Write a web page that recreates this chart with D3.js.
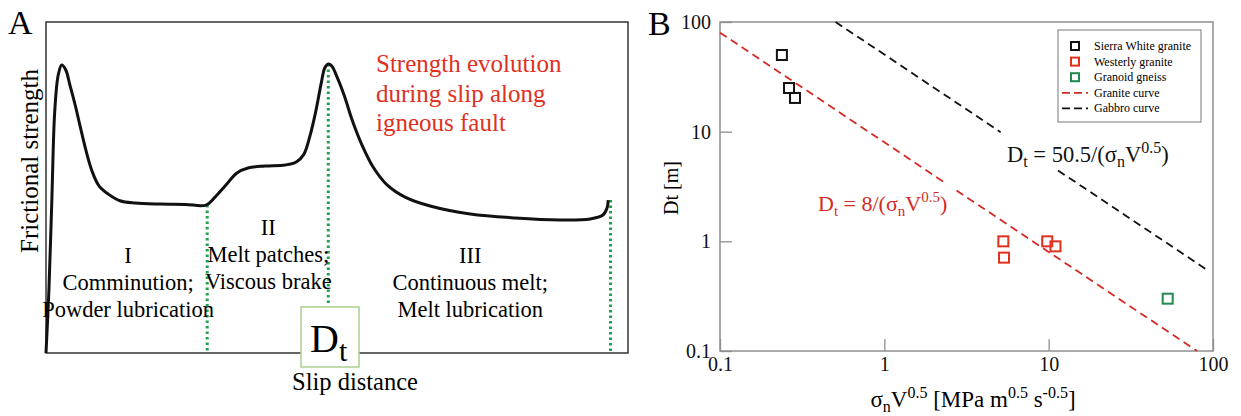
<!DOCTYPE html>
<html>
<head>
<meta charset="utf-8">
<script src="https://cdn.jsdelivr.net/npm/d3@7"></script>
<style>
  body { margin: 0; background: #fff; }
</style>
</head>
<body>
<div id="chart"></div>
<script>
// Panel A: schematic strength curve (slip, strength in arbitrary 0-100 units)
var slip = [0, 0.5, 1.0, 1.5, 2.1, 2.7, 3.4, 4.1, 5.0, 5.8, 6.9, 7.9, 9.1, 10.7, 12.7, 15.3, 19.6, 23.9, 27.5,
            29.0, 30.8, 32.8, 34.7, 37.6, 41.1, 43.0, 44.3, 45.4, 46.4, 47.3, 47.9, 48.5, 49.1, 50.0, 51.2,
            52.6, 54.3, 56.2, 58.6, 61.7, 66.0, 72.9, 80.6, 88.3, 93.5, 95.7, 96.4, 96.6]
var strength = [0, 19, 46, 73, 84, 87, 85.5, 81, 75, 69, 61, 55, 50.5, 48, 46, 45.3, 45, 44.9, 44.7,
                47, 50.5, 54.4, 55.9, 56.5, 56.8, 57.7, 60, 65.9, 73.4, 81.6, 86.1, 87.3, 86.7, 83.4, 78,
                70.4, 62.8, 56.2, 50.8, 47.1, 44.4, 42, 40.8, 40.2, 40.5, 41.7, 43.8, 46.2]
var stageBounds = [27.7, 48.5, 97]   // dotted green lines
var stageBoundTops = [44.7, 87.3, 46.2]
var stageNames = ["I", "II", "III"]
var stageText = [["Comminution;", "Powder lubrication"], ["Melt patches;", "Viscous brake"], ["Continuous melt;", "Melt lubrication"]]
var titleLines = ["Strength evolution", "during slip along", "igneous fault"]

// Panel B: Dt vs sigma_n V^0.5
var sierraX = [0.238, 0.263, 0.286]
var sierraY = [50, 25, 20.3]
var westerlyX = [5.3, 5.35, 9.8, 11]
var westerlyY = [1.0, 0.71, 1.0, 0.9]
var gneissX = [53]
var gneissY = [0.3]
var graniteC = 8
var gabbroC = 50.5
var logTicks = [0.1, 1, 10, 100]
var legendNames = ["Sierra White granite", "Westerly granite", "Granoid gneiss", "Granite curve", "Gabbro curve"]

var red = "#e0301e", green = "#1f8a4c", black = "#111", frameGrey = "#8f8f8f"
var serif = "'Liberation Serif', 'Times New Roman', serif"

var svg = d3.select("#chart").append("svg").attr("width", 1241).attr("height", 416)

// ---------------- Panel A ----------------
var xA = d3.scaleLinear().domain([0, 100]).range([46, 628])
var yA = d3.scaleLinear().domain([0, 100]).range([353, 22])

svg.append("text").attr("x", 8).attr("y", 34).style("font-size", "34px").text("A")

// frame
svg.append("rect").attr("x", xA(0)).attr("y", yA(100))
   .attr("width", xA(100) - xA(0)).attr("height", yA(0) - yA(100))
   .attr("fill", "none").attr("stroke", "#333").attr("stroke-width", 1.5)

// dotted stage boundaries
stageBounds.forEach(function(s, i) {
  svg.append("line")
     .attr("x1", xA(s)).attr("x2", xA(s))
     .attr("y1", yA(stageBoundTops[i])).attr("y2", i == 1 ? 306 : yA(0))
     .attr("stroke", "#1ea34a").attr("stroke-width", 3).attr("stroke-dasharray", "2.5,3")
})

// strength curve
var lineA = d3.line().x(function(d, i) { return xA(slip[i]) })
              .y(function(d) { return yA(d) })
              .curve(d3.curveCatmullRom.alpha(0.5))
svg.append("path").datum(strength).attr("d", lineA)
   .attr("fill", "none").attr("stroke", black).attr("stroke-width", 3)

// red title
titleLines.forEach(function(t, i) {
  svg.append("text").attr("x", 376).attr("y", 72 + i * 29.5).attr("fill", red)
     .style("font-size", "25px").text(t)
})

// stage labels
var stageX = [14.1, 38.2, 72.9]
stageNames.forEach(function(n, i) {
  var y0 = i == 1 ? 235 : 263
  svg.append("text").attr("x", xA(stageX[i])).attr("y", y0).attr("text-anchor", "middle")
     .style("font-size", "22.5px").text(n)
  stageText[i].forEach(function(t, j) {
    svg.append("text").attr("x", xA(stageX[i])).attr("y", y0 + 27 + j * 27).attr("text-anchor", "middle")
       .style("font-size", "22.5px").text(t)
  })
})

// Dt box
svg.append("rect").attr("x", 301).attr("y", 307).attr("width", 58).attr("height", 60)
   .attr("fill", "#fff").attr("stroke", "#a9d18e").attr("stroke-width", 1.5)
var dt = svg.append("text").attr("x", 310).attr("y", 352).style("font-size", "40px")
dt.append("tspan").text("D")
dt.append("tspan").attr("dy", 9).style("font-size", "30px").text("t")

svg.append("text").attr("x", 355).attr("y", 390).attr("text-anchor", "middle")
   .style("font-size", "24.5px").text("Slip distance")

svg.append("text").attr("transform", "translate(38,161) rotate(-90)").attr("text-anchor", "middle")
   .style("font-size", "25px").text("Frictional strength")

// ---------------- Panel B ----------------
var xB = d3.scaleLog().domain([0.1, 100]).range([720, 1213])
var yB = d3.scaleLog().domain([0.1, 100]).range([351, 22])

svg.append("text").attr("x", 648).attr("y", 35).style("font-size", "34px").text("B")

var fmt = function(d) { return d < 1 ? "0.1" : d3.format("d")(d) }

var gx = svg.append("g").attr("transform", "translate(0," + yB(0.1) + ")")
   .call(d3.axisBottom(xB).tickValues(logTicks).tickFormat(fmt).tickSizeInner(-12).tickSizeOuter(0).tickPadding(6))
var gy = svg.append("g").attr("transform", "translate(" + xB(0.1) + ",0)")
   .call(d3.axisLeft(yB).tickValues(logTicks).tickFormat(fmt).tickSizeInner(-12).tickSizeOuter(0).tickPadding(9))
;[gx, gy].forEach(function(g) {
  g.select(".domain").remove()
  g.selectAll(".tick line").attr("stroke", frameGrey).attr("stroke-width", 1.3)
  g.selectAll(".tick text").style("font-size", "20px").attr("fill", black)
})

svg.append("rect").attr("x", xB(0.1)).attr("y", yB(100))
   .attr("width", xB(100) - xB(0.1)).attr("height", yB(0.1) - yB(100))
   .attr("fill", "none").attr("stroke", frameGrey).attr("stroke-width", 1.5)

// fitted curves (broken where the labels sit)
function curve(c, lo, hi) {
  return d3.line().x(function(d) { return xB(d) }).y(function(d) { return yB(c / d) })([lo, hi])
}
var segs = [[graniteC, 0.1, 2.4, "#d42a24"], [graniteC, 2.75, 80, "#d42a24"],
            [gabbroC, 0.505, 5.1, black], [gabbroC, 11.4, 95, black]]
segs.forEach(function(s) {
  svg.append("path").attr("d", curve(s[0], s[1], s[2]))
     .attr("stroke", s[3]).attr("stroke-width", 1.8).attr("fill", "none").attr("stroke-dasharray", "8,5")
})

// data squares
function squares(xs, ys, col) {
  svg.selectAll(null).data(xs).enter().append("rect")
     .attr("x", function(d) { return xB(d) - 5 })
     .attr("y", function(d, i) { return yB(ys[i]) - 5 })
     .attr("width", 10).attr("height", 10)
     .attr("fill", "none").attr("stroke", col).attr("stroke-width", 2)
}
squares(sierraX, sierraY, black)
squares(westerlyX, westerlyY, red)
squares(gneissX, gneissY, green)

// curve labels
var lab1 = svg.append("text").attr("x", 1007).attr("y", 162).style("font-size", "22.5px").attr("fill", black)
lab1.append("tspan").text("D")
lab1.append("tspan").attr("dy", 5).style("font-size", "16px").text("t")
lab1.append("tspan").attr("dy", -5).text(" = 50.5/(σ")
lab1.append("tspan").attr("dy", 5).style("font-size", "16px").text("n")
lab1.append("tspan").attr("dy", -5).text("V")
lab1.append("tspan").attr("dy", -9).style("font-size", "16px").text("0.5")
lab1.append("tspan").attr("dy", 9).text(")")

var lab2 = svg.append("text").attr("x", 818).attr("y", 211).style("font-size", "22px").attr("fill", "#d42a24")
lab2.append("tspan").text("D")
lab2.append("tspan").attr("dy", 5).style("font-size", "15px").text("t")
lab2.append("tspan").attr("dy", -5).text(" = 8/(σ")
lab2.append("tspan").attr("dy", 5).style("font-size", "15px").text("n")
lab2.append("tspan").attr("dy", -5).text("V")
lab2.append("tspan").attr("dy", -9).style("font-size", "15px").text("0.5")
lab2.append("tspan").attr("dy", 9).text(")")

// axis titles
var xt = svg.append("text").attr("x", 973).attr("y", 407).attr("text-anchor", "middle").style("font-size", "23px")
xt.append("tspan").text("σ")
xt.append("tspan").attr("dy", 5).style("font-size", "16px").text("n")
xt.append("tspan").attr("dy", -5).text("V")
xt.append("tspan").attr("dy", -9).style("font-size", "16px").text("0.5")
xt.append("tspan").attr("dy", 9).text(" [MPa m")
xt.append("tspan").attr("dy", -9).style("font-size", "16px").text("0.5")
xt.append("tspan").attr("dy", 9).text(" s")
xt.append("tspan").attr("dy", -9).style("font-size", "16px").text("-0.5")
xt.append("tspan").attr("dy", 9).text("]")

svg.append("text").attr("transform", "translate(678,188) rotate(-90)").attr("text-anchor", "middle")
   .style("font-size", "20px").text("Dt [m]")

// legend
svg.append("rect").attr("x", 1058).attr("y", 30).attr("width", 143).attr("height", 92)
   .attr("fill", "#fff").attr("stroke", "#777").attr("stroke-width", 1)
var legendCols = [black, red, green, "#d42a24", black]
legendNames.forEach(function(n, i) {
  var ly = 46 + i * 15.6
  if (i < 3) {
    svg.append("rect").attr("x", 1071).attr("y", ly - 4).attr("width", 8).attr("height", 8)
       .attr("fill", "none").attr("stroke", legendCols[i]).attr("stroke-width", 2)
  } else {
    svg.append("line").attr("x1", 1062).attr("x2", 1088).attr("y1", ly).attr("y2", ly)
       .attr("stroke", legendCols[i]).attr("stroke-width", 1.8).attr("stroke-dasharray", "8,4")
  }
  svg.append("text").attr("x", 1094).attr("y", ly + 4).style("font-size", "12px").text(n)
})

// serif font everywhere, as in the original figure
svg.selectAll("text").style("font-family", serif)
</script>
</body>
</html>
